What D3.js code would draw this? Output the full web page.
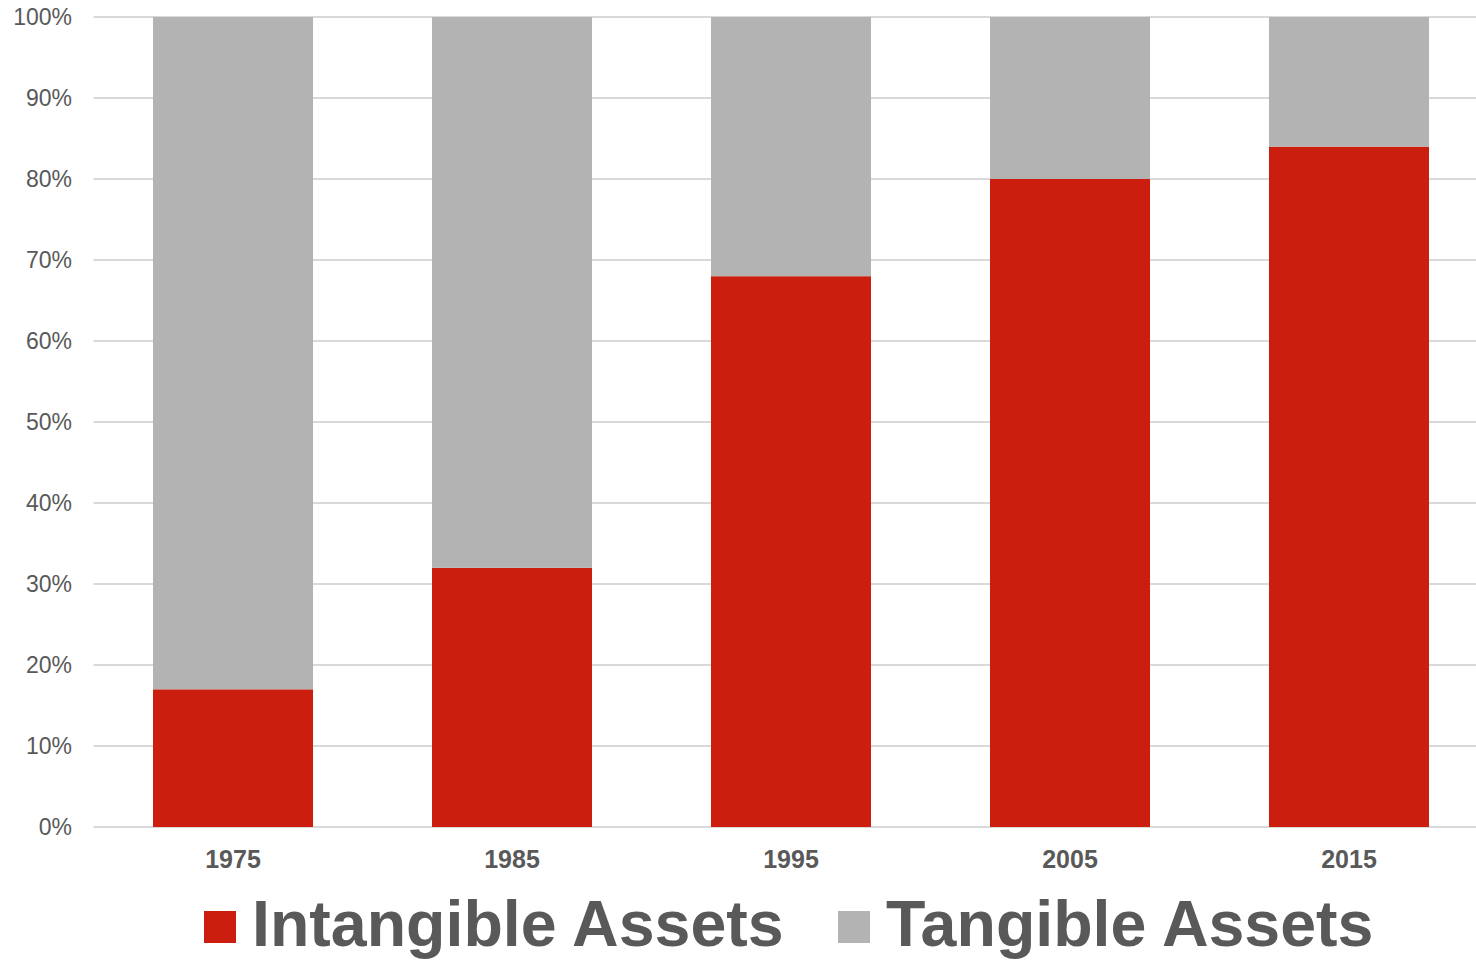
<!DOCTYPE html>
<html>
<head>
<meta charset="utf-8">
<script src="https://cdn.jsdelivr.net/npm/d3@7/dist/d3.min.js"></script>
<style>
  html, body { margin: 0; padding: 0; background: #fff; }
  svg { display: block; }
</style>
</head>
<body>
<svg id="chart" width="1476" height="960"></svg>
<script>
// Share of asset value by year
const years = ["1975", "1985", "1995", "2005", "2015"];
const intangible = [17, 32, 68, 80, 84];
const tangible = [83, 68, 32, 20, 16];
const seriesNames = ["Intangible Assets", "Tangible Assets"];
const seriesColors = ["#CC1E0E", "#B3B3B3"];
const yTicks = [0, 10, 20, 30, 40, 50, 60, 70, 80, 90, 100];

const svg = d3.select("#chart");
const W = 1476, H = 960;
const margin = { left: 93.5, right: -12.5, top: 17, bottom: 133 };

const x = d3.scaleBand()
  .domain(years)
  .range([margin.left, W - margin.right])
  .paddingInner(0.4265)
  .paddingOuter(0.2133);

const y = d3.scaleLinear()
  .domain([0, 100])
  .range([H - margin.bottom, margin.top]);

// gridlines
svg.append("g")
  .selectAll("line")
  .data(yTicks)
  .join("line")
  .attr("x1", margin.left)
  .attr("x2", W)
  .attr("y1", d => y(d))
  .attr("y2", d => y(d))
  .attr("stroke", "#D9D9D9")
  .attr("stroke-width", 2);

// y tick labels
svg.append("g")
  .selectAll("text")
  .data(yTicks)
  .join("text")
  .attr("x", 72)
  .attr("y", d => y(d))
  .attr("dy", "0.36em")
  .attr("text-anchor", "end")
  .attr("font-family", "Liberation Sans, Arial, sans-serif")
  .attr("font-size", 23)
  .attr("fill", "#595959")
  .text(d => d + "%");

// stacked bars
const rows = years.map((yr, i) => ({ year: yr, "Intangible Assets": intangible[i], "Tangible Assets": tangible[i] }));
const stacked = d3.stack().keys(seriesNames)(rows);

svg.append("g")
  .selectAll("g")
  .data(stacked)
  .join("g")
  .attr("fill", (d, i) => seriesColors[i])
  .selectAll("rect")
  .data(d => d)
  .join("rect")
  .attr("x", d => x(d.data.year))
  .attr("width", x.bandwidth())
  .attr("y", d => y(d[1]))
  .attr("height", d => y(d[0]) - y(d[1]));

// x labels
svg.append("g")
  .selectAll("text")
  .data(years)
  .join("text")
  .attr("x", d => x(d) + x.bandwidth() / 2)
  .attr("y", 868)
  .attr("text-anchor", "middle")
  .attr("font-family", "Liberation Sans, Arial, sans-serif")
  .attr("font-weight", "bold")
  .attr("font-size", 25)
  .attr("fill", "#595959")
  .text(d => d);

// legend
const legend = svg.append("g");
const legendX = [204, 838];
seriesNames.forEach((name, i) => {
  legend.append("rect")
    .attr("x", legendX[i])
    .attr("y", 911)
    .attr("width", 32)
    .attr("height", 32)
    .attr("fill", seriesColors[i]);
  legend.append("text")
    .attr("x", legendX[i] + 48)
    .attr("y", 946)
    .attr("font-family", "Liberation Sans, Arial, sans-serif")
    .attr("font-weight", "bold")
    .attr("font-size", 64.5)
    .attr("fill", "#595959")
    .text(name);
});
</script>
</body>
</html>
